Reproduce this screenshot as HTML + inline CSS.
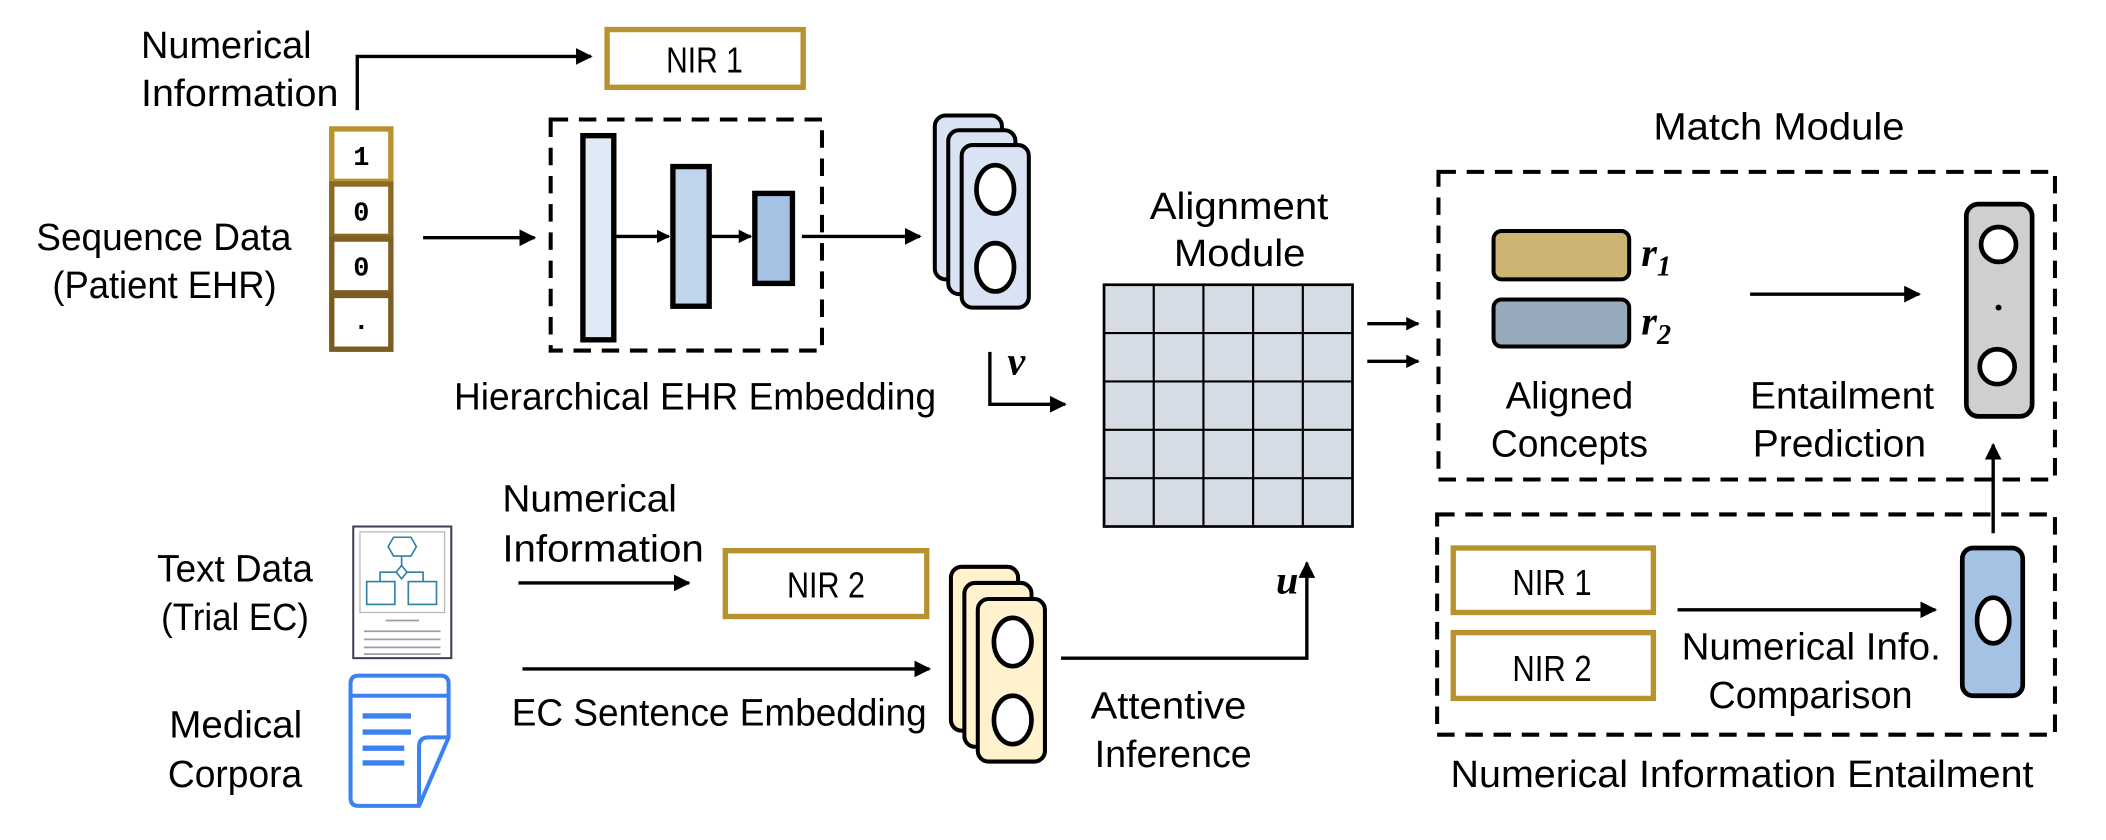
<!DOCTYPE html>
<html><head><meta charset="utf-8"><style>
html,body{margin:0;padding:0;background:#fff;}
svg{display:block;}
text{font-family:"Liberation Sans Narrow","Liberation Sans",sans-serif;fill:#000;}
.l{font-size:28px;}
.m{font-family:"Liberation Serif",serif;font-weight:bold;font-style:italic;}
</style></head><body>
<svg width="2106" height="840" viewBox="0 0 1568 625.4" preserveAspectRatio="none" xmlns="http://www.w3.org/2000/svg">
<defs>
<marker id="a" viewBox="0 0 10 10" refX="9" refY="5" markerWidth="5" markerHeight="5" orient="auto" markerUnits="strokeWidth"><path d="M0,0 L10,5 L0,10 z" fill="#000"/></marker>
<marker id="b" viewBox="0 0 10 10" refX="9" refY="5" markerWidth="4" markerHeight="4" orient="auto" markerUnits="strokeWidth"><path d="M0,0 L10,5 L0,10 z" fill="#000"/></marker>
</defs>
<g stroke="#000" stroke-width="2.5" fill="none">
<path d="M266,82 V42 H440" marker-end="url(#a)"/>
<path d="M315,177 H398" marker-end="url(#a)"/>
<path d="M458,176 H498" marker-end="url(#b)"/>
<path d="M528,176 H559" marker-end="url(#b)"/>
<path d="M597,176 H685" marker-end="url(#a)"/>
<path d="M737,262 V301 H793" marker-end="url(#a)"/>
<path d="M1018,241 H1056" marker-end="url(#b)"/>
<path d="M1018,269 H1056" marker-end="url(#b)"/>
<path d="M1303,219 H1429" marker-end="url(#a)"/>
<path d="M1484,397 V331" marker-end="url(#a)"/>
<path d="M1249,454 H1441" marker-end="url(#a)"/>
<path d="M386,434 H513" marker-end="url(#a)"/>
<path d="M389,498 H692" marker-end="url(#a)"/>
<path d="M790,490 H973 V419" marker-end="url(#a)"/>
</g>
<g stroke="#000" stroke-width="3" fill="none" stroke-dasharray="13 8">
<rect x="410" y="89" width="202" height="172"/>
<rect x="1071" y="128" width="459" height="229"/>
<rect x="1070" y="383" width="460" height="164"/>
</g>
<g stroke="#B8922E" stroke-width="4" fill="#fff">
<rect x="452" y="22" width="146" height="43"/>
<rect x="540" y="410" width="150" height="49"/>
<rect x="1082" y="408" width="149" height="48"/>
<rect x="1082" y="471" width="149" height="49"/>
</g>
<rect x="247" y="96" width="44" height="39" fill="#fff" stroke="#B8922E" stroke-width="4"/>
<rect x="247" y="137" width="44" height="39" fill="#fff" stroke="#8A6A22" stroke-width="4"/>
<rect x="247" y="178" width="44" height="40" fill="#fff" stroke="#7E6024" stroke-width="4"/>
<rect x="247" y="220" width="44" height="40" fill="#fff" stroke="#7A5C22" stroke-width="4"/>
<g font-weight="bold" font-size="20" text-anchor="middle" style="font-family:'Liberation Mono',monospace">
<text x="269" y="123" style="font-family:'Liberation Mono',monospace">1</text><text x="269" y="164" style="font-family:'Liberation Mono',monospace">0</text><text x="269" y="205" style="font-family:'Liberation Mono',monospace">0</text><text x="269" y="245" style="font-family:'Liberation Mono',monospace">.</text>
</g>
<g stroke="#000" stroke-width="4">
<rect x="434" y="101" width="23" height="152" fill="#DEEAF6"/>
<rect x="501" y="124" width="27" height="104" fill="#C0D5EB"/>
<rect x="562" y="144" width="28" height="67" fill="#A4C2E4"/>
</g>
<g stroke="#000" stroke-width="3" fill="#DAE3F3">
<rect x="696" y="86" width="50" height="122" rx="8"/>
<rect x="706" y="97" width="50" height="122" rx="8"/>
<rect x="716" y="108" width="50" height="121" rx="8"/>
</g>
<g stroke="#000" stroke-width="3.5" fill="#fff">
<ellipse cx="741" cy="141" rx="14" ry="18"/>
<ellipse cx="741" cy="199" rx="14" ry="18"/>
</g>
<g stroke="#000" stroke-width="3" fill="#FFF2CC">
<rect x="708" y="422" width="50" height="122" rx="8"/>
<rect x="718" y="434" width="50" height="122" rx="8"/>
<rect x="728" y="446" width="50" height="121" rx="8"/>
</g>
<g stroke="#000" stroke-width="3.5" fill="#fff">
<ellipse cx="754" cy="478" rx="14" ry="18"/>
<ellipse cx="754" cy="536" rx="14" ry="18"/>
</g>
<rect x="822" y="212" width="185" height="180" fill="#D6DCE5" stroke="#000" stroke-width="2"/>
<g stroke="#000" stroke-width="1.6">
<path d="M859,212V392M896,212V392M933,212V392M970,212V392"/>
<path d="M822,248H1007M822,284H1007M822,320H1007M822,356H1007"/>
</g>
<rect x="1112" y="172" width="101" height="36" rx="6" fill="#CDB473" stroke="#000" stroke-width="3"/>
<rect x="1112" y="223" width="101" height="35" rx="6" fill="#97AABB" stroke="#000" stroke-width="3"/>
<text class="m" x="1222" y="198" font-size="30">r<tspan font-size="21" dy="7">1</tspan></text>
<text class="m" x="1222" y="249" font-size="30">r<tspan font-size="21" dy="7">2</tspan></text>
<rect x="1464" y="152" width="49" height="158" rx="9" fill="#D0CECE" stroke="#000" stroke-width="3.5"/>
<circle cx="1488" cy="182" r="13" fill="#fff" stroke="#000" stroke-width="3.5"/>
<circle cx="1487" cy="273" r="13" fill="#fff" stroke="#000" stroke-width="3.5"/>
<circle cx="1488" cy="229" r="2.2" fill="#000"/>
<rect x="1461" y="408" width="45" height="110" rx="8" fill="#A4C2E4" stroke="#000" stroke-width="3.5"/>
<ellipse cx="1484" cy="462" rx="12" ry="17" fill="#fff" stroke="#000" stroke-width="3.5"/>
<rect x="263" y="392" width="73" height="98" fill="#fff" stroke="#3A3F52" stroke-width="1.5"/>
<rect x="268" y="396" width="63" height="60" fill="#fff" stroke="#BBBBBB" stroke-width="1"/>
<g stroke="#2E7EA6" stroke-width="1.2" fill="none">
<polygon points="293,400 306,400 310,407 306,414 293,414 289,407"/>
<path d="M299,414V421"/>
<polygon points="299,421 303,426 299,431 295,426"/>
<path d="M295,426H283V433M303,426H315V433"/>
<rect x="273" y="433" width="21" height="17"/><rect x="304" y="433" width="21" height="17"/>
</g>
<g stroke="#9AA0AA" stroke-width="1.3"><path d="M287,462H312M271,470H328M271,476H328M271,482H328M271,487H328"/></g>
<g stroke="#3B82F0" fill="none" stroke-width="3">
<path d="M312,600 H267 Q261,600 261,594 V509 Q261,503 267,503 H328 Q334,503 334,509 V549 L312,600 Z"/>
<path d="M261,518H334"/>
<path d="M312,600 V556 Q312,549 319,549 H334"/>
</g>
<g stroke="#3B82F0" stroke-width="4"><path d="M270,533H306M270,545H306M270,557H301M270,568H301"/></g>
<g class="l">
<text x="105" y="43" textLength="127" lengthAdjust="spacingAndGlyphs">Numerical</text>
<text x="105" y="79" textLength="147" lengthAdjust="spacingAndGlyphs">Information</text>
<text x="27" y="186" textLength="190" lengthAdjust="spacingAndGlyphs">Sequence Data</text>
<text x="39" y="222" textLength="167" lengthAdjust="spacingAndGlyphs">(Patient EHR)</text>
<text x="338" y="305" textLength="359" lengthAdjust="spacingAndGlyphs">Hierarchical EHR Embedding</text>
<text x="856" y="163" textLength="133" lengthAdjust="spacingAndGlyphs">Alignment</text>
<text x="874" y="198" textLength="98" lengthAdjust="spacingAndGlyphs">Module</text>
<text x="1231" y="104" textLength="187" lengthAdjust="spacingAndGlyphs">Match Module</text>
<text x="1121" y="304" textLength="95" lengthAdjust="spacingAndGlyphs">Aligned</text>
<text x="1303" y="304" textLength="137" lengthAdjust="spacingAndGlyphs">Entailment</text>
<text x="1110" y="340" textLength="117" lengthAdjust="spacingAndGlyphs">Concepts</text>
<text x="1305" y="340" textLength="129" lengthAdjust="spacingAndGlyphs">Prediction</text>
<text x="1252" y="491" textLength="193" lengthAdjust="spacingAndGlyphs">Numerical Info.</text>
<text x="1272" y="527" textLength="152" lengthAdjust="spacingAndGlyphs">Comparison</text>
<text x="1080" y="586" textLength="434" lengthAdjust="spacingAndGlyphs">Numerical Information Entailment</text>
<text x="812" y="535" textLength="116" lengthAdjust="spacingAndGlyphs">Attentive</text>
<text x="815" y="571" textLength="117" lengthAdjust="spacingAndGlyphs">Inference</text>
<text x="117" y="433" textLength="116" lengthAdjust="spacingAndGlyphs">Text Data</text>
<text x="120" y="469" textLength="110" lengthAdjust="spacingAndGlyphs">(Trial EC)</text>
<text x="126" y="549" textLength="99" lengthAdjust="spacingAndGlyphs">Medical</text>
<text x="125" y="586" textLength="100" lengthAdjust="spacingAndGlyphs">Corpora</text>
<text x="374" y="381" textLength="130" lengthAdjust="spacingAndGlyphs">Numerical</text>
<text x="374" y="418" textLength="150" lengthAdjust="spacingAndGlyphs">Information</text>
<text x="381" y="540" textLength="309" lengthAdjust="spacingAndGlyphs">EC Sentence Embedding</text>
</g>
<g font-size="27">
<text x="496" y="54" textLength="57" lengthAdjust="spacingAndGlyphs">NIR 1</text>
<text x="586" y="445" textLength="58" lengthAdjust="spacingAndGlyphs">NIR 2</text>
<text x="1126" y="443" textLength="59" lengthAdjust="spacingAndGlyphs">NIR 1</text>
<text x="1126" y="507" textLength="59" lengthAdjust="spacingAndGlyphs">NIR 2</text>
</g>
<text class="m" x="750" y="279" font-size="30">v</text>
<text class="m" x="950" y="442" font-size="30">u</text>
</svg>
</body></html>
